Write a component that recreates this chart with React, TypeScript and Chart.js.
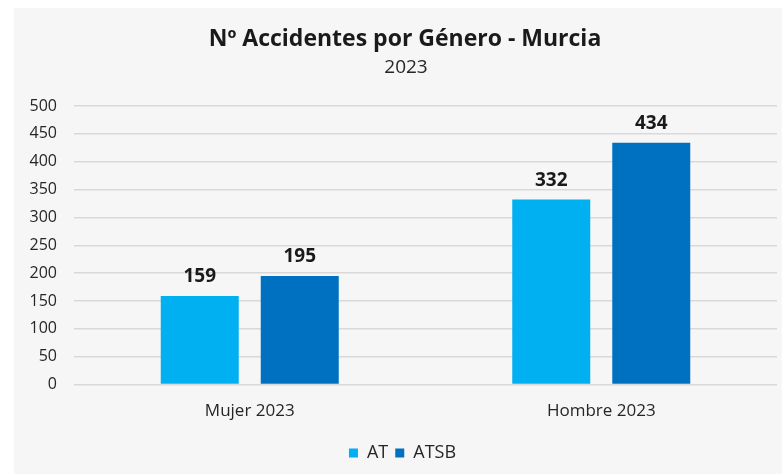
import React, { useEffect, useRef } from "react";
import { Chart, registerables } from "chart.js";

Chart.register(...registerables);

const categories = ["Mujer 2023", "Hombre 2023"];
const seriesAT = [159, 332];
const seriesATSB = [195, 434];
const seriesNames = ["AT", "ATSB"];
const titleText = "Nº Accidentes por Género - Murcia";
const subtitleText = "2023";

const FONT = "'Open Sans', Lato, sans-serif";

const headerPlugin = {
  id: "header",
  afterDraw(chart: any) {
    const ctx = chart.ctx;
    ctx.save();
    ctx.textAlign = "center";
    ctx.textBaseline = "alphabetic";
    ctx.fillStyle = "#1a1a1a";
    ctx.font = `bold 23px ${FONT}`;
    ctx.fillText(titleText, 405, 46);
    ctx.fillStyle = "#262626";
    ctx.font = `19px ${FONT}`;
    ctx.fillText(subtitleText, 406, 73);
    ctx.restore();
  },
};

const dataLabelPlugin = {
  id: "dataLabels",
  afterDatasetsDraw(chart: any) {
    const ctx = chart.ctx;
    ctx.save();
    ctx.font = `bold 19px ${FONT}`;
    ctx.fillStyle = "#1a1a1a";
    ctx.textAlign = "center";
    ctx.textBaseline = "alphabetic";
    chart.data.datasets.forEach((ds: any, i: number) => {
      const meta = chart.getDatasetMeta(i);
      meta.data.forEach((el: any, j: number) => {
        ctx.fillText(String(ds.data[j]), el.x, el.y - 14);
      });
    });
    ctx.restore();
  },
};

export default function App() {
  const ref = useRef<HTMLCanvasElement | null>(null);
  useEffect(() => {
    if (!ref.current) return;
    const chart = new Chart(ref.current, {
      type: "bar",
      data: {
        labels: categories,
        datasets: [
          { label: seriesNames[0], data: seriesAT, backgroundColor: "#00B0F0" },
          { label: seriesNames[1], data: seriesATSB, backgroundColor: "#0070C0" },
        ],
      },
      options: {
        animation: false,
        responsive: false,
        maintainAspectRatio: false,
        layout: { padding: { left: 28, right: 5, top: 106, bottom: 2 } },
        datasets: {
          bar: { categoryPercentage: 0.569, barPercentage: 0.78 },
        },
        scales: {
          x: {
            grid: { display: false, drawTicks: false },
            border: { display: false },
            ticks: { color: "#262626", font: { family: FONT, size: 17 }, padding: 16 },
          },
          y: {
            min: 0,
            max: 500,
            ticks: { stepSize: 50, color: "#262626", font: { family: FONT, size: 16 }, padding: 17 },
            grid: { color: "#d9d9d9", lineWidth: 1.5, drawTicks: false },
            border: { display: false },
            afterFit(scale: any) {
              scale.width = 46;
            },
          },
        },
        plugins: {
          title: { display: false },
          legend: {
            position: "bottom",
            labels: {
              boxWidth: 9,
              boxHeight: 9,
              color: "#262626",
              font: { family: FONT, size: 18 },
              padding: 7,
            },
          },
          tooltip: { enabled: false },
        },
      },
      plugins: [dataLabelPlugin, headerPlugin],
    });
    return () => chart.destroy();
  }, []);

  return (
    <div style={{ position: "fixed", left: 0, top: 0, width: 782, height: 474, background: "#ffffff" }}>
      <div style={{ position: "absolute", left: 14, top: 8, width: 768, height: 466, background: "#f6f6f6" }} />
      <canvas ref={ref} width={782} height={474} style={{ position: "absolute", left: 0, top: 0, width: 782, height: 474 }} />
    </div>
  );
}
